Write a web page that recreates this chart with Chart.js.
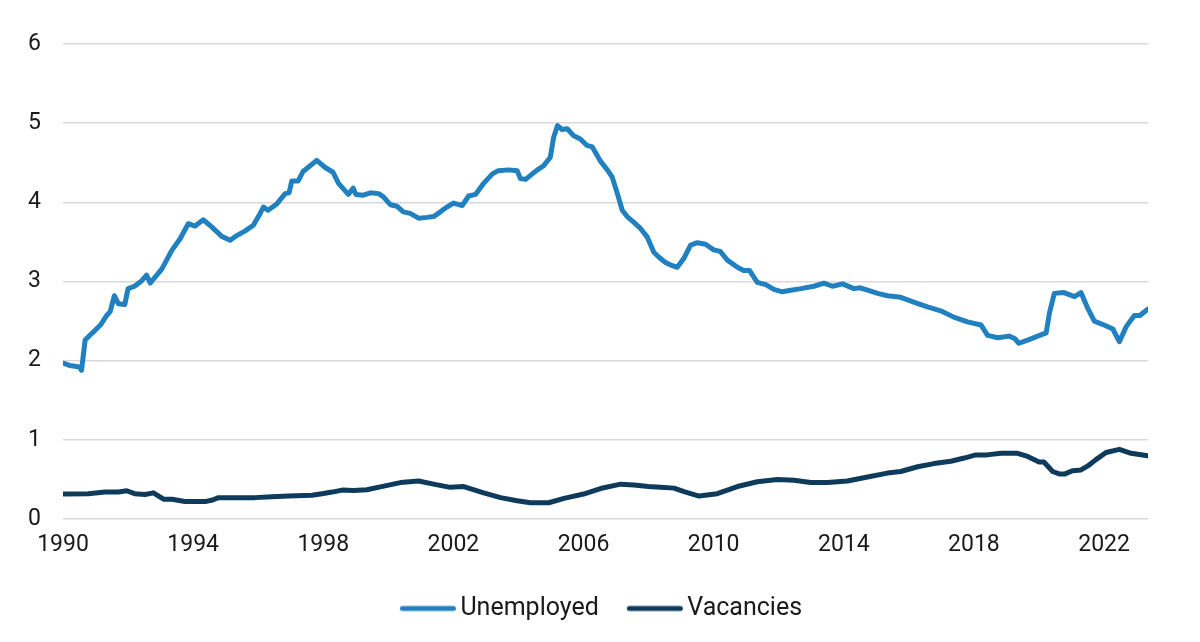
<!DOCTYPE html>
<html>
<head>
<meta charset="utf-8">
<script src="https://cdn.jsdelivr.net/npm/chart.js@4.4.1/dist/chart.umd.min.js"></script>
<style>
  html, body { margin: 0; padding: 0; background: #ffffff; }
  #wrap { width: 1200px; height: 642px; position: relative; }
</style>
</head>
<body>
<div id="wrap"><canvas id="c" width="1200" height="642"></canvas></div>
<script>
// ---- data ----
const seriesNames = ["Unemployed", "Vacancies"];
const seriesColors = ["#2180bf", "#0e3b5c"];
const xTickYears = [1990, 1994, 1998, 2002, 2006, 2010, 2014, 2018, 2022];
const yTickValues = [0, 1, 2, 3, 4, 5, 6];

const unemployedYears = [
  1990.00, 1990.20, 1990.37, 1990.50, 1990.57, 1990.68, 1990.85, 1990.98, 1991.15, 1991.34,
  1991.45, 1991.58, 1991.70, 1991.90, 1992.00, 1992.20, 1992.42, 1992.57, 1992.68, 1993.04,
  1993.34, 1993.60, 1993.85, 1994.06, 1994.31, 1994.57, 1994.88, 1995.14, 1995.34, 1995.60,
  1995.85, 1996.06, 1996.16, 1996.30, 1996.57, 1996.83, 1996.95, 1997.03, 1997.23, 1997.38,
  1997.80, 1998.06, 1998.30, 1998.47, 1998.77, 1998.92, 1999.00, 1999.23, 1999.45, 1999.70,
  1999.85, 2000.06, 2000.27, 2000.46, 2000.67, 2000.93, 2001.19, 2001.39, 2001.60, 2001.80,
  2002.00, 2002.27, 2002.47, 2002.68, 2002.93, 2003.20, 2003.38, 2003.70, 2003.96, 2004.06,
  2004.22, 2004.37, 2004.58, 2004.77, 2004.98, 2005.08, 2005.20, 2005.34, 2005.50, 2005.70,
  2005.90, 2006.10, 2006.27, 2006.52, 2006.73, 2006.88, 2007.04, 2007.19, 2007.34, 2007.54,
  2007.75, 2007.96, 2008.16, 2008.31, 2008.52, 2008.73, 2008.88, 2009.08, 2009.29, 2009.50,
  2009.75, 2010.00, 2010.20, 2010.42, 2010.73, 2010.92, 2011.10, 2011.34, 2011.60, 2011.85,
  2012.11, 2012.37, 2012.68, 2013.08, 2013.39, 2013.65, 2013.96, 2014.31, 2014.50, 2014.73,
  2015.04, 2015.34, 2015.75, 2016.15, 2016.57, 2016.98, 2017.38, 2017.80, 2018.22, 2018.42,
  2018.73, 2019.08, 2019.25, 2019.38, 2019.65, 2019.96, 2020.22, 2020.32, 2020.47, 2020.77,
  2021.09, 2021.29, 2021.50, 2021.70, 2022.00, 2022.27, 2022.47, 2022.68, 2022.93, 2023.10,
  2023.34
];
const unemployedValues = [
  1.97, 1.94, 1.93, 1.92, 1.88, 2.26, 2.33, 2.38, 2.45, 2.57,
  2.62, 2.82, 2.72, 2.71, 2.91, 2.94, 3.01, 3.08, 2.98, 3.16,
  3.39, 3.54, 3.73, 3.70, 3.78, 3.69, 3.57, 3.52, 3.58, 3.64,
  3.71, 3.86, 3.94, 3.90, 3.98, 4.11, 4.12, 4.27, 4.27, 4.39,
  4.53, 4.44, 4.38, 4.24, 4.10, 4.18, 4.10, 4.09, 4.12, 4.11,
  4.07, 3.97, 3.95, 3.88, 3.86, 3.80, 3.81, 3.82, 3.88, 3.94,
  3.99, 3.96, 4.08, 4.10, 4.24, 4.36, 4.40, 4.41, 4.40, 4.30,
  4.29, 4.34, 4.41, 4.46, 4.57, 4.82, 4.97, 4.92, 4.93, 4.84,
  4.80, 4.72, 4.70, 4.52, 4.41, 4.32, 4.11, 3.90, 3.82, 3.75,
  3.67, 3.56, 3.37, 3.31, 3.24, 3.20, 3.18, 3.29, 3.46, 3.49,
  3.47, 3.40, 3.38, 3.27, 3.18, 3.14, 3.14, 2.99, 2.96, 2.90,
  2.87, 2.89, 2.91, 2.94, 2.98, 2.94, 2.97, 2.91, 2.92, 2.89,
  2.85, 2.82, 2.80, 2.74, 2.68, 2.63, 2.55, 2.49, 2.45, 2.32,
  2.29, 2.31, 2.28, 2.22, 2.26, 2.31, 2.35, 2.60, 2.85, 2.86,
  2.81, 2.86, 2.66, 2.50, 2.45, 2.40, 2.24, 2.43, 2.57, 2.57,
  2.65
];

const vacanciesYears = [
  1990.00, 1990.78, 1991.29, 1991.70, 1991.96, 1992.20, 1992.52, 1992.78, 1993.09, 1993.35,
  1993.75, 1994.37, 1994.60, 1994.78, 1995.40, 1995.90, 1996.42, 1996.93, 1997.65, 1997.96,
  1998.27, 1998.58, 1998.93, 1999.34, 1999.86, 2000.37, 2000.93, 2001.39, 2001.90, 2002.32,
  2002.93, 2003.45, 2003.96, 2004.37, 2004.93, 2005.40, 2006.00, 2006.52, 2007.14, 2007.55,
  2008.00, 2008.37, 2008.78, 2009.09, 2009.55, 2010.11, 2010.73, 2011.34, 2011.96, 2012.47,
  2012.98, 2013.50, 2014.11, 2014.73, 2015.34, 2015.75, 2016.27, 2016.77, 2017.29, 2017.70,
  2018.06, 2018.40, 2018.83, 2019.34, 2019.65, 2020.00, 2020.15, 2020.42, 2020.62, 2020.80,
  2021.03, 2021.29, 2021.50, 2021.75, 2022.06, 2022.47, 2022.83, 2023.34
];
const vacanciesValues = [
  0.315, 0.32, 0.34, 0.34, 0.357, 0.32, 0.31, 0.33, 0.25, 0.25,
  0.22, 0.22, 0.24, 0.27, 0.27, 0.27, 0.28, 0.29, 0.30, 0.32,
  0.34, 0.365, 0.36, 0.37, 0.415, 0.46, 0.48, 0.44, 0.40, 0.41,
  0.33, 0.27, 0.23, 0.205, 0.205, 0.26, 0.315, 0.385, 0.44, 0.43,
  0.41, 0.40, 0.39, 0.345, 0.29, 0.32, 0.41, 0.47, 0.50, 0.49,
  0.46, 0.46, 0.48, 0.53, 0.58, 0.60, 0.66, 0.70, 0.73, 0.77,
  0.81, 0.81, 0.83, 0.83, 0.79, 0.72, 0.72, 0.60, 0.57, 0.57,
  0.61, 0.62, 0.67, 0.75, 0.84, 0.88, 0.83, 0.80
];

// ---- chart ----
const toPoints = (xs, ys) => xs.map((x, i) => ({ x: x, y: ys[i] }));
const FONT = "Roboto, 'Noto Sans', sans-serif";

// legend swatch: a thick rounded line, drawn as an image so it sits close to its text
function legendSwatch(color) {
  const cv = document.createElement('canvas');
  cv.width = 70; cv.height = 10;
  const g = cv.getContext('2d');
  g.strokeStyle = color;
  g.lineWidth = 5;
  g.lineCap = 'round';
  g.beginPath();
  g.moveTo(14.5, 5);
  g.lineTo(65.5, 5);
  g.stroke();
  return cv;
}

new Chart(document.getElementById('c'), {
  type: 'line',
  data: {
    datasets: [
      {
        label: seriesNames[0],
        data: toPoints(unemployedYears, unemployedValues),
        borderColor: seriesColors[0],
        backgroundColor: seriesColors[0],
        borderWidth: 5,
        pointRadius: 0,
        tension: 0,
        borderJoinStyle: 'round',
        borderCapStyle: 'round'
      },
      {
        label: seriesNames[1],
        data: toPoints(vacanciesYears, vacanciesValues),
        borderColor: seriesColors[1],
        backgroundColor: seriesColors[1],
        borderWidth: 5,
        pointRadius: 0,
        tension: 0,
        borderJoinStyle: 'round',
        borderCapStyle: 'round'
      }
    ]
  },
  options: {
    responsive: false,
    animation: false,
    devicePixelRatio: 1,
    layout: { padding: { top: 44, right: 0, bottom: 11, left: 0 } },
    scales: {
      x: {
        type: 'linear',
        min: 1990,
        max: 2023.35,
        afterBuildTicks: (scale) => { scale.ticks = xTickYears.map(v => ({ value: v })); },
        afterFit: (scale) => { scale.height = 51; },
        ticks: {
          callback: (v) => String(v),
          color: '#1a1a1a',
          font: { family: FONT, size: 23 },
          maxRotation: 0,
          autoSkip: false,
          padding: 4
        },
        grid: { display: false },
        border: { display: false }
      },
      y: {
        min: 0,
        max: 6,
        afterBuildTicks: (scale) => { scale.ticks = yTickValues.map(v => ({ value: v })); },
        afterFit: (scale) => { scale.width = 63; },
        ticks: {
          color: '#1a1a1a',
          font: { family: FONT, size: 23 },
          padding: 22
        },
        grid: { color: '#d9d9d9', lineWidth: 1.5, drawTicks: false },
        border: { display: false }
      },
      spacer: {
        type: 'linear',
        position: 'right',
        display: true,
        afterFit: (scale) => { scale.width = 52; },
        ticks: { display: false },
        grid: { display: false, drawTicks: false },
        border: { display: false }
      }
    },
    plugins: {
      legend: {
        position: 'bottom',
        labels: {
          usePointStyle: true,
          pointStyleWidth: 50,
          padding: 26,
          color: '#1a1a1a',
          font: { family: FONT, size: 25 },
          generateLabels: (chart) => chart.data.datasets.map((ds, i) => ({
            text: ds.label,
            pointStyle: legendSwatch(seriesColors[i]),
            fillStyle: seriesColors[i],
            strokeStyle: seriesColors[i],
            lineWidth: 0,
            hidden: false,
            datasetIndex: i,
            fontColor: '#1a1a1a'
          }))
        }
      },
      tooltip: { enabled: false }
    }
  }
});
</script>
</body>
</html>
